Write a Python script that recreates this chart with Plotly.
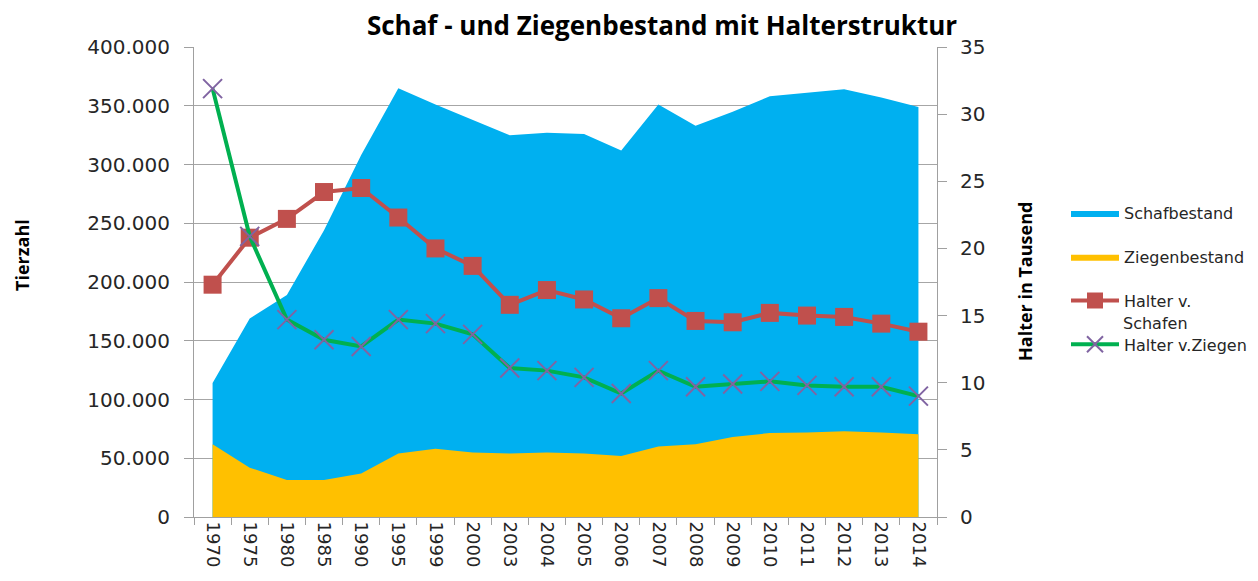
import plotly.graph_objects as go

years = ["1970", "1975", "1980", "1985", "1990", "1995", "1999", "2000", "2003", "2004",
         "2005", "2006", "2007", "2008", "2009", "2010", "2011", "2012", "2013", "2014"]
schafbestand = [114000, 169000, 189000, 244000, 308000, 365000, 351000, 338000, 325000, 327000,
                326000, 312000, 351000, 333000, 345000, 358000, 361000, 364000, 357000, 349000]
ziegenbestand = [62000, 42000, 31500, 31500, 37000, 54000, 58000, 55000, 54000, 55000,
                 54000, 52000, 60000, 62000, 68000, 71500, 72000, 73000, 72000, 70500]
halter_schafe = [17.3, 20.8, 22.2, 24.2, 24.5, 22.3, 20.0, 18.7, 15.8, 16.9,
                 16.2, 14.8, 16.3, 14.6, 14.5, 15.2, 15.0, 14.9, 14.4, 13.8]
halter_ziegen = [31.9, 20.9, 14.7, 13.2, 12.7, 14.7, 14.4, 13.6, 11.1, 10.9,
                 10.4, 9.2, 10.9, 9.7, 9.9, 10.1, 9.8, 9.7, 9.7, 9.0]

fig = go.Figure()
fig.add_trace(go.Scatter(x=years, y=schafbestand, name="Schafbestand", mode="lines",
                         line=dict(width=0, color="#00B0F0"), fill="tozeroy",
                         fillcolor="#00B0F0", legendgroup="a"))
fig.add_trace(go.Scatter(x=years, y=ziegenbestand, name="Ziegenbestand", mode="lines",
                         line=dict(width=0, color="#FFC000"), fill="tozeroy",
                         fillcolor="#FFC000", legendgroup="b"))
fig.add_trace(go.Scatter(x=years, y=halter_schafe, name="Halter v.", mode="lines+markers",
                         yaxis="y2", line=dict(width=4, color="#C0504D"),
                         marker=dict(symbol="square", size=18, color="#C0504D"), legendgroup="c"))
fig.add_trace(go.Scatter(x=years, y=halter_ziegen, name="Halter v.Ziegen", mode="lines+markers",
                         yaxis="y2", line=dict(width=4, color="#00B050"),
                         marker=dict(symbol="x-thin", size=19, color="#8064A2",
                                     line=dict(width=2, color="#8064A2")), legendgroup="d"))

# page body has an 8px margin; work in figure coords
OFF = 8
W, H = 1250, 573
L, R, T, B = 194 - OFF, W - (937 - OFF), 47 - OFF, H - (517 - OFF)

fig.update_layout(
    width=W, height=H,
    margin=dict(l=L, r=R, t=T, b=B, autoexpand=False),
    paper_bgcolor="white", plot_bgcolor="white",
    separators=",.",
    font=dict(family="DejaVu Sans", size=17, color="#262626"),
    title=dict(text="<b>Schaf - und Ziegenbestand mit Halterstruktur</b>",
               font=dict(family="Open Sans", size=26, color="black"),
               x=(662 - OFF) / W, xanchor="center", y=1 - (26 - OFF) / H, yanchor="middle"),
    xaxis=dict(type="category", tickangle=90, showgrid=False, showline=True,
               linecolor="#A0A0A0", linewidth=1, ticks="outside", tickson="boundaries",
               ticklen=7, tickcolor="#A0A0A0", tickfont=dict(size=18),
               range=[-0.5, 19.5], automargin=False),
    yaxis=dict(range=[0, 400000], dtick=50000, tickformat=",.0f", showgrid=True,
               gridcolor="#A6A6A6", gridwidth=1, showline=True, linecolor="#A0A0A0",
               ticks="outside", ticklen=9, tickcolor="#A0A0A0", tickfont=dict(size=20),
               ticklabelstandoff=10, zeroline=False, automargin=False),
    yaxis2=dict(range=[0, 35], dtick=5, overlaying="y", side="right", showgrid=False,
                showline=True, linecolor="#A0A0A0", ticks="outside", ticklen=9,
                tickcolor="#A0A0A0", tickfont=dict(size=20), ticklabelstandoff=9,
                zeroline=False, automargin=False),
    legend=dict(x=(1066 - 194) / 743, y=(517 - 196) / 470, xanchor="left", yanchor="top",
                font=dict(family="DejaVu Sans", size=16, color="#262626"),
                tracegroupgap=20, itemwidth=48, bgcolor="rgba(0,0,0,0)"),
    showlegend=True,
)

pw = W - L - R
ph = H - T - B
def ann(text, px, py, angle=-90, xanchor="center", font=None):
    return dict(text=text, x=(px - OFF - L) / pw, y=(H - B - (py - OFF)) / ph,
                xref="paper", yref="paper", xanchor=xanchor, yanchor="middle",
                showarrow=False, textangle=angle,
                font=font or dict(family="Open Sans", size=18, color="black"))

fig.update_layout(annotations=[
    ann("<b>Tierzahl</b>", 22, 255),
    ann("<b>Halter in Tausend</b>", 1025, 282),
    ann("Schafen", 1121, 323, angle=0, xanchor="left",
        font=dict(family="DejaVu Sans", size=16, color="#262626")),
])

fig.write_html("out.html")
